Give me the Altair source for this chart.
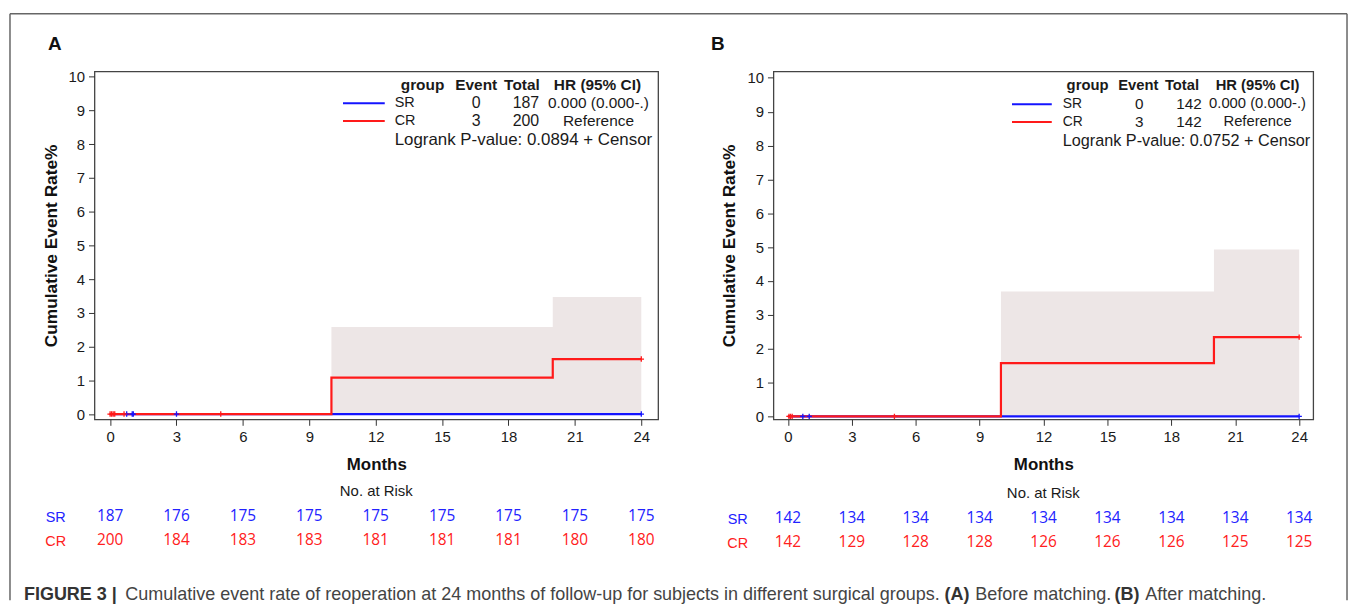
import altair as alt
import pandas as pd

# ---------------- data ----------------
month_ticks = [0, 3, 6, 9, 12, 15, 18, 21, 24]
rate_ticks = [0, 1, 2, 3, 4, 5, 6, 7, 8, 9, 10]

# Panel A (before matching)
a_sr_time = [0, 24]
a_sr_rate = [0, 0]
a_cr_time = [0, 10, 20, 24]
a_cr_rate = [0, 1.08, 1.63, 1.63]
a_band_time = [10, 20, 24]
a_band_upper = [2.58, 3.47, 3.47]
a_cens_sr = [0.75, 1.0, 1.05, 3.0, 24]
a_cens_cr = [0.0, 0.07, 0.14, 0.21, 0.63, 5.0, 24]
a_risk_sr = [187, 176, 175, 175, 175, 175, 175, 175, 175]
a_risk_cr = [200, 184, 183, 183, 181, 181, 181, 180, 180]
a_events = ["0", "3"]
a_totals = ["187", "200"]
a_hr = ["0.000 (0.000-.)", "Reference"]
a_pvalue = "0.0894"

# Panel B (after matching)
b_sr_time = [0, 24]
b_sr_rate = [0, 0]
b_cr_time = [0, 10, 20, 24]
b_cr_rate = [0, 1.57, 2.34, 2.34]
b_band_time = [10, 20, 24]
b_band_upper = [3.69, 4.93, 4.93]
b_cens_sr = [0.7, 1.0, 24]
b_cens_cr = [0.05, 0.12, 0.2, 5.0, 24]
b_risk_sr = [142, 134, 134, 134, 134, 134, 134, 134, 134]
b_risk_cr = [142, 129, 128, 128, 126, 126, 126, 125, 125]
b_events = ["0", "3"]
b_totals = ["142", "142"]
b_hr = ["0.000 (0.000-.)", "Reference"]
b_pvalue = "0.0752"

groups = ["SR", "CR"]

BLUE = "#1414ff"
RED = "#ff1a1a"
BAND = "#ede6e6"
FONT = "Liberation Sans"
NUMFONT = "Open Sans"
DUMMY = pd.DataFrame({"d": [0]})


def text(t, x, y, size=15, weight="normal", align="left", color="#1a1a1a",
         font=FONT, baseline="middle"):
    return alt.Chart(DUMMY).mark_text(
        text=t, fontSize=size, fontWeight=weight, align=align,
        color=color, font=font, baseline=baseline).encode(
        x=alt.value(x), y=alt.value(y))


def rule(x, y, x2=None, y2=None, color="#555", width=1.5):
    enc = dict(x=alt.value(x), y=alt.value(y))
    if x2 is not None:
        enc["x2"] = alt.value(x2)
    if y2 is not None:
        enc["y2"] = alt.value(y2)
    return alt.Chart(DUMMY).mark_rule(color=color, strokeWidth=width).encode(**enc)


def panel(W, H, xdom, ydom, sr_t, sr_r, cr_t, cr_r, band_t, band_u,
          cens_sr, cens_cr, risk_sr, risk_cr, events, totals, hr, pval,
          leg, risk_y, risk_lab_x, letter, letter_x, fs=1.0):
    xs = alt.Scale(domain=xdom, nice=False, zero=False)
    ys = alt.Scale(domain=ydom, nice=False, zero=False)
    xaxis = alt.Axis(values=month_ticks, title="Months", format="d",
                     titleFontSize=17, titleFontWeight="bold", titlePadding=12,
                     labelPadding=4, labelOverlap=False, grid=False, domain=False,
                     tickSize=6, tickColor="#333", labelFont=FONT, labelFontSize=15,
                     labelColor="#1a1a1a", titleFont=FONT, titleColor="#111")
    yaxis = alt.Axis(values=rate_ticks, tickCount=11, title="Cumulative Event Rate%",
                     format="d", titleFontSize=17.4, titleFontWeight="bold",
                     titlePadding=8, labelPadding=4, labelOverlap=False, grid=False,
                     domain=False, tickSize=6, tickColor="#333", labelFont=FONT,
                     labelFontSize=15, labelColor="#1a1a1a", titleFont=FONT,
                     titleColor="#111")

    def X(f):
        return alt.X(f, scale=xs, axis=xaxis)

    def Y(f):
        return alt.Y(f, scale=ys, axis=yaxis)

    band_df = pd.DataFrame({"t": band_t, "u": band_u, "l": [0] * len(band_t)})
    band = alt.Chart(band_df).mark_area(color=BAND, opacity=1,
                                        interpolate="step-after").encode(
        x=X("t:Q"), y=Y("u:Q"), y2="l:Q")

    sr_df = pd.DataFrame({"t": sr_t, "r": sr_r})
    cr_df = pd.DataFrame({"t": cr_t, "r": cr_r})
    sr_line = alt.Chart(sr_df).mark_line(color=BLUE, strokeWidth=2.2,
                                         interpolate="step-after").encode(
        x=X("t:Q"), y=Y("r:Q"))
    cr_line = alt.Chart(cr_df).mark_line(color=RED, strokeWidth=2.2,
                                         interpolate="step-after").encode(
        x=X("t:Q"), y=Y("r:Q"))

    def cens_y(times, st, sv):
        out = []
        for tt in times:
            v = 0
            for s, r in zip(st, sv):
                if tt >= s:
                    v = r
            out.append(v)
        return out

    cs_df = pd.DataFrame({"t": cens_sr, "r": cens_y(cens_sr, sr_t, sr_r)})
    cc_df = pd.DataFrame({"t": cens_cr, "r": cens_y(cens_cr, cr_t, cr_r)})
    plus = "M-1,0L1,0M0,-1L0,1"
    cs = alt.Chart(cs_df).mark_point(shape=plus, size=30, color=BLUE, filled=False,
                                     strokeWidth=1.3, opacity=1).encode(
        x=X("t:Q"), y=Y("r:Q"))
    cc = alt.Chart(cc_df).mark_point(shape=plus, size=30, color=RED, filled=False,
                                     strokeWidth=1.3, opacity=1).encode(
        x=X("t:Q"), y=Y("r:Q"))

    # number at risk rows
    risk_df = pd.DataFrame({
        "t": month_ticks * 2,
        "n": [str(v) for v in risk_sr] + [str(v) for v in risk_cr],
        "g": ["SR"] * len(risk_sr) + ["CR"] * len(risk_cr),
    })
    risk_sr_txt = alt.Chart(risk_df).transform_filter(alt.datum.g == "SR").mark_text(
        font=NUMFONT, fontSize=15.5, color="#2222ff", baseline="middle").encode(
        x=X("t:Q"), y=alt.value(risk_y), text="n:N")
    risk_cr_txt = alt.Chart(risk_df).transform_filter(alt.datum.g == "CR").mark_text(
        font=NUMFONT, fontSize=15.5, color="#ff2020", baseline="middle").encode(
        x=X("t:Q"), y=alt.value(risk_y + 24), text="n:N")

    lx, hx, ex, tx, rowy = leg
    layers = [band, sr_line, cr_line, cs, cc, risk_sr_txt, risk_cr_txt]
    # legend table inside plot
    hs = 15.5 * fs
    layers += [
        text("group", hx[0], rowy[0], size=hs, weight="bold", align="center"),
        text("Event", hx[1], rowy[0], size=hs, weight="bold", align="center"),
        text("Total", hx[2], rowy[0], size=hs, weight="bold", align="center"),
        text("HR (95% CI)", hx[3], rowy[0], size=hs, weight="bold", align="center"),
        rule(lx[0], rowy[1], x2=lx[1], color=BLUE, width=2),
        rule(lx[0], rowy[2], x2=lx[1], color=RED, width=2),
    ]
    for i, g in enumerate(groups):
        yy = rowy[1 + i]
        layers += [
            text(g, tx, yy, size=14.5 * fs),
            text(events[i], ex[0], yy, size=16 * fs, align="center"),
            text(totals[i], ex[1], yy, size=16 * fs, align="center"),
            text(hr[i], ex[2], yy, size=15.5 * fs, align="center"),
        ]
    layers.append(text("Logrank P-value: " + pval + " + Censor", tx, rowy[3],
                       size=17 * fs))
    # no. at risk heading and row labels
    layers += [
        text("No. at Risk", W / 2, risk_y - 25, size=15, align="center"),
        text("SR", risk_lab_x, risk_y + 2, size=14.5, color="#2222ff", align="center"),
        text("CR", risk_lab_x, risk_y + 26, size=14.5, color="#ff2020", align="center"),
        text(letter, letter_x, -28, size=19, weight="bold", align="center", color="#111"),
    ]
    return alt.layer(*layers).properties(width=W, height=H)


# panel A: plot box at screen (93,68), size 567x350
pA = panel(
    567, 350, [-0.705, 24.76], [-0.156, 10.156],
    a_sr_time, a_sr_rate, a_cr_time, a_cr_rate, a_band_time, a_band_upper,
    a_cens_sr, a_cens_cr, a_risk_sr, a_risk_cr, a_events, a_totals, a_hr, a_pvalue,
    ([250, 292], [330, 384, 430, 506], [384, 434, 507], 302, [14, 32, 50, 69]),
    447, -39, "A", -40,
)

# outer frame and caption (drawn in panel A coordinates)
cap_y = 527
CAP = 18.1
frame = [
    rule(-85, -58, y2=532, color="#666", width=1.5),
    rule(-85, -58, x2=1260, color="#666", width=1.5),
    rule(1260, -58, y2=532, color="#666", width=1.5),
    text("FIGURE 3 |", -71, cap_y, size=CAP, weight="bold", color="#333"),
    text("Cumulative event rate of reoperation at 24 months of follow-up for subjects "
         "in different surgical groups.", 31, cap_y, size=18.1, color="#444"),
    text("(A)", 855, cap_y, size=CAP, weight="bold", color="#333"),
    text("Before matching.", 886, cap_y, size=CAP, color="#444"),
    text("(B)", 1026, cap_y, size=CAP, weight="bold", color="#333"),
    text("After matching.", 1057, cap_y, size=CAP, color="#444"),
]
pA = alt.layer(pA, *frame)

# panel B: plot box at screen (776,68), size 543x350
pB = panel(
    543, 350, [-0.68, 24.66], [-0.088, 10.19],
    b_sr_time, b_sr_rate, b_cr_time, b_cr_rate, b_band_time, b_band_upper,
    b_cens_sr, b_cens_cr, b_risk_sr, b_risk_cr, b_events, b_totals, b_hr, b_pvalue,
    ([240, 280], [316, 367, 411, 487], [368, 418, 487], 291, [15, 33, 51, 70]),
    449, -36, "B", -56, fs=0.96,
)

chart = alt.hconcat(pA, pB, spacing=116, bounds="flush").properties(
    padding={"left": 0, "top": 2, "right": 0, "bottom": 0},
    autosize=alt.AutoSizeParams(type="pad"),
    background="white",
).configure_view(
    stroke="#444", strokeWidth=1.3
)

chart.save("out.html", embed_options={"renderer": "svg", "actions": False})
